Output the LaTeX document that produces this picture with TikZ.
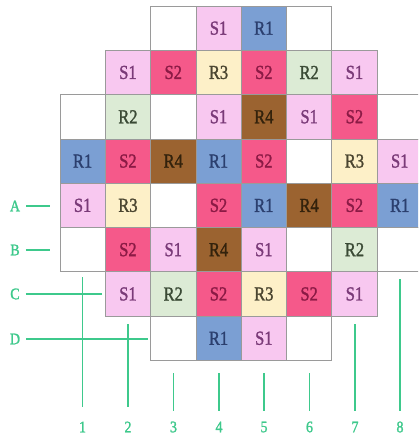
\documentclass[tikz,border=0pt]{standalone}
\usepackage{graphicx}
\usepackage{fontspec}
\setmainfont{Liberation Serif}
\newfontfamily\cellfont{Liberation Serif}[FakeBold=1.5]
\newcommand\vstretch[1]{\scalebox{1}[1.2]{#1}}
\newcommand\lstretch[1]{\scalebox{1}[1.15]{#1}}
\definecolor{cS1}{HTML}{F8C8F0}
\definecolor{cS2}{HTML}{F5598A}
\definecolor{cR1}{HTML}{7B9FD3}
\definecolor{cR2}{HTML}{DCEBD5}
\definecolor{cR3}{HTML}{FDF0C8}
\definecolor{cR4}{HTML}{9B6330}
\definecolor{tS1}{HTML}{7A3A78}
\definecolor{tS2}{HTML}{8B1A45}
\definecolor{tR1}{HTML}{2B3F6E}
\definecolor{tR2}{HTML}{3A4A35}
\definecolor{tR3}{HTML}{4A4530}
\definecolor{tR4}{HTML}{33220C}
\definecolor{gl}{HTML}{3EC98C}
\definecolor{bord}{HTML}{9A9A9A}
\tikzset{
  cell/.style={draw=bord, line width=0.7pt, minimum width=45.3pt, minimum height=44.3pt, inner sep=0pt,
    font=\cellfont\fontsize{16.5}{16.5}\selectfont},
  S1/.style={fill=cS1, text=tS1},
  S2/.style={fill=cS2, text=tS2},
  R1/.style={fill=cR1, text=tR1},
  R2/.style={fill=cR2, text=tR2},
  R3/.style={fill=cR3, text=tR3},
  R4/.style={fill=cR4, text=tR4},
  E/.style={fill=white},
  lab/.style={text=gl, inner sep=0pt, font=\cellfont\fontsize{14}{14}\selectfont},
  gline/.style={draw=gl, line width=1.5pt}
}
\begin{document}
\begin{tikzpicture}[x=1pt,y=-1pt]
\useasboundingbox (0,0) rectangle (418,441);
\clip (0,0) rectangle (418,441);
\fill[white] (0,0) rectangle (418,441);
\foreach \r/\c/\t/\s in {
 1/3//E, 1/4/S1/S1, 1/5/R1/R1, 1/6//E,
 2/2/S1/S1, 2/3/S2/S2, 2/4/R3/R3, 2/5/S2/S2, 2/6/R2/R2, 2/7/S1/S1,
 3/1//E, 3/2/R2/R2, 3/3//E, 3/4/S1/S1, 3/5/R4/R4, 3/6/S1/S1, 3/7/S2/S2, 3/8//E,
 4/1/R1/R1, 4/2/S2/S2, 4/3/R4/R4, 4/4/R1/R1, 4/5/S2/S2, 4/6//E, 4/7/R3/R3, 4/8/S1/S1,
 5/1/S1/S1, 5/2/R3/R3, 5/3//E, 5/4/S2/S2, 5/5/R1/R1, 5/6/R4/R4, 5/7/S2/S2, 5/8/R1/R1,
 6/1//E, 6/2/S2/S2, 6/3/S1/S1, 6/4/R4/R4, 6/5/S1/S1, 6/6//E, 6/7/R2/R2, 6/8//E,
 7/2/S1/S1, 7/3/R2/R2, 7/4/S2/S2, 7/5/R3/R3, 7/6/S2/S2, 7/7/S1/S1,
 8/3//E, 8/4/R1/R1, 8/5/S1/S1, 8/6//E}
 \node[cell,\s] (c\r\c) at ({60+(\c-0.5)*45.3},{6+(\r-0.5)*44.3}) {\vstretch{\t}};
% row labels
\node[lab] (lA) at (15,206) {\lstretch{A}};
\node[lab] (lB) at (15,250) {\lstretch{B}};
\node[lab] (lC) at (15,294) {\lstretch{C}};
\node[lab] (lD) at (15,339) {\lstretch{D}};
\coordinate (eA) at (50,206);
\coordinate (eB) at (50,250);
\coordinate (eC) at (102,294);
\coordinate (eD) at (148,339);
\draw[gline] (lA.east) ++(6,0) -- (eA);
\draw[gline] (lB.east) ++(6,0) -- (eB);
\draw[gline] (lC.east) ++(6,0) -- (eC);
\draw[gline] (lD.east) ++(6,0) -- (eD);
% column labels
\foreach \i/\x/\top/\bot in {1/82.5/277/407, 2/128/324/407, 3/173.5/373/411, 4/219/373/411, 5/264/373/411, 6/309.5/373/411, 7/355/324/411, 8/400/279/411}{
  \node[lab] (n\i) at (\x,427) {\lstretch{\i}};
  \coordinate (t\i) at (\x,\top);
  \coordinate (b\i) at (\x,\bot);
  \draw[gline] (t\i) -- (b\i);
}
\end{tikzpicture}
\end{document}
